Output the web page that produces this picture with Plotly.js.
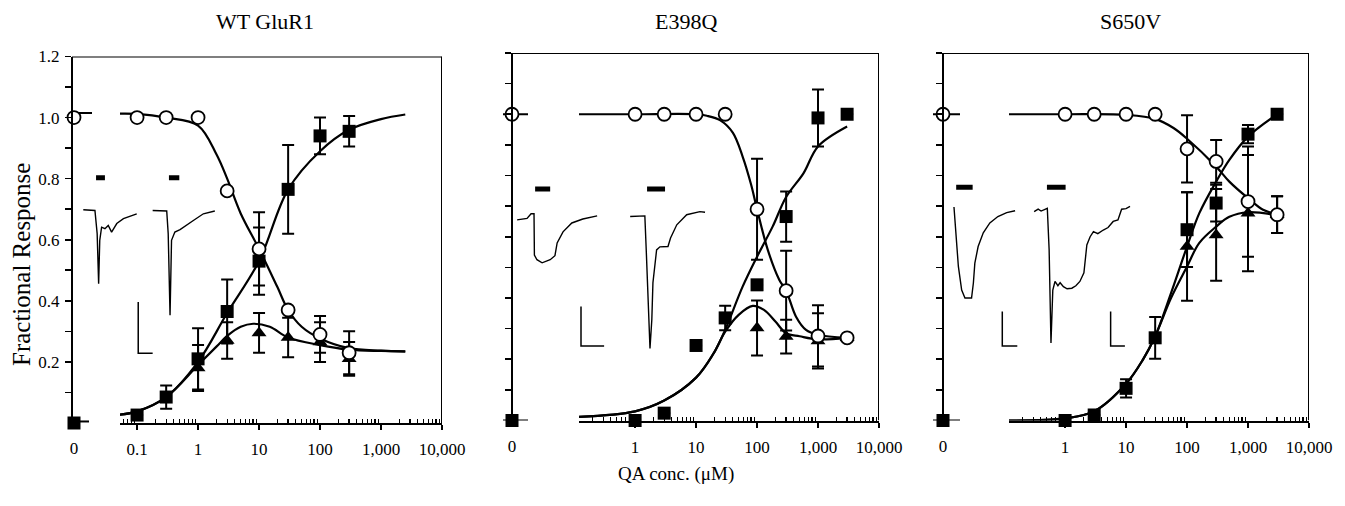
<!DOCTYPE html>
<html><head><meta charset="utf-8">
<script src="https://cdn.plot.ly/plotly-3.0.1.min.js"></script>
<style>html,body{margin:0;padding:0;background:#fff}#chart{width:1345px;height:506px}</style>
</head><body><div id="chart"></div>
<script>
// ================= DATA =================
const panelTitles = ['WT GluR1', 'E398Q', 'S650V'];
const xTitle = 'QA conc. (\u03bcM)';
const yTitle = 'Fractional Response';
const yTickVals = [0.2, 0.4, 0.6, 0.8, 1.0, 1.2];
const yTickText = ['0.2', '0.4', '0.6', '0.8', '1.0', '1.2'];
const yMinorVals = [0.1, 0.3, 0.5, 0.7, 0.9, 1.1];
const xTickVals1 = [0.1, 1, 10, 100, 1000, 10000];
const xTickText1 = ['0.1', '1', '10', '100', '1,000', '10,000'];
const xTickVals23 = [1, 10, 100, 1000, 10000];
const xTickText23 = ['1', '10', '100', '1,000', '10,000'];

// ---- WT GluR1 ----
const wtConc = [0.1, 0.3, 1, 3, 10, 30, 100, 300];
const wtCircle = [1.0, 1.0, 1.0, 0.76, 0.57, 0.37, 0.29, 0.23];
const wtCircleErr = [0, 0, 0, 0, 0.12, 0, 0.06, 0.07];
const wtSquare = [0.026, 0.085, 0.21, 0.365, 0.53, 0.765, 0.94, 0.955];
const wtSquareErr = [0, 0.038, 0.10, 0.105, 0.11, 0.145, 0.06, 0.05];
const wtTriConc = [1, 3, 10, 30, 100, 300];
const wtTri = [0.18, 0.27, 0.295, 0.28, 0.265, 0.21];
const wtTriErr = [0.075, 0.06, 0.065, 0.065, 0.065, 0.055];
const wtZeroCircle = [1.0], wtZeroSquare = [0.0];
const wtZeroCircleFit = 1.015, wtZeroSquareFit = 0.005;
const wtStubCircleX = [0, 0.9], wtStubSquareX = [-0.25, 0.75];
const wtCircleFitX = [0.052, 0.1, 0.3, 1, 2, 3, 5, 10, 20, 30, 50, 100, 300, 1000, 2500];
const wtCircleFitY = [1.013, 1.012, 1.0, 0.974, 0.88, 0.80, 0.686, 0.57, 0.445, 0.37, 0.315, 0.277, 0.245, 0.237, 0.234];
const wtSquareFitX = [0.052, 0.1, 0.3, 1, 3, 10, 30, 100, 300, 1000, 2500];
const wtSquareFitY = [0.027, 0.038, 0.085, 0.2, 0.36, 0.53, 0.765, 0.89, 0.96, 0.995, 1.01];
const wtTriFitX = [0.052, 0.1, 0.3, 1, 2, 3, 5, 8, 15, 30, 100, 300, 1000, 2500];
const wtTriFitY = [0.027, 0.038, 0.085, 0.19, 0.25, 0.285, 0.315, 0.325, 0.315, 0.28, 0.255, 0.24, 0.236, 0.235];
// inset current traces (x: % of panel width, y: response units)
const wtTrace1X = [3.05, 6.2, 6.8, 7.2, 7.5, 8.0, 8.9, 9.8, 10.7, 12.1, 13.9, 16.6, 17.5];
const wtTrace1Y = [0.698, 0.696, 0.62, 0.456, 0.598, 0.641, 0.636, 0.647, 0.625, 0.653, 0.669, 0.680, 0.685];
const wtTrace2X = [21.8, 25.6, 26.0, 26.5, 26.9, 27.8, 29.2, 31.0, 32.8, 35.5, 38.6];
const wtTrace2Y = [0.696, 0.694, 0.62, 0.353, 0.598, 0.625, 0.633, 0.647, 0.663, 0.685, 0.694];
const wtStimX = [[6.5, 8.9], [26.2, 29.0]];
const wtStimY = 0.803;
const wtScaleX = [[17.9, 17.9, 21.8]];
const wtScaleY = [0.396, 0.228, 0.228];

// ---- E398Q ----
const e3Conc = [1, 3, 10, 30, 100, 300, 1000, 3000];
const e3Circle = [1, 1, 1, 1, 0.69, 0.424, 0.276, 0.27];
const e3CircleErr = [0, 0, 0, 0, 0.165, 0.13, 0.1, 0];
const e3Square = [0, 0.024, 0.245, 0.335, 0.443, 0.666, 0.988, 1.0];
const e3SquareErr = [0, 0, 0, 0.04, 0, 0.082, 0.093, 0];
const e3TriConc = [100, 300, 1000, 3000];
const e3Tri = [0.302, 0.274, 0.26, 0.27];
const e3TriErr = [0.09, 0.055, 0.09, 0];
const e3ZeroCircle = [1.0], e3ZeroSquare = [0.0];
const e3ZeroCircleFit = 1.0, e3ZeroSquareFit = 0.0;
const e3StubCircleX = [-0.45, 0.8], e3StubSquareX = [-0.45, 0.8];
const e3CircleFitX = [0.12, 1, 10, 15, 25, 40, 58, 80, 100, 150, 232, 300, 436, 635, 1000, 3000];
const e3CircleFitY = [1.0, 1.0, 1.0, 0.995, 0.98, 0.94, 0.862, 0.77, 0.69, 0.557, 0.459, 0.424, 0.339, 0.296, 0.28, 0.27];
const e3SquareFitX = [0.12, 1, 3, 10, 19.5, 30, 58, 100, 180, 300, 580, 1000, 3000];
const e3SquareFitY = [0.012, 0.03, 0.065, 0.14, 0.22, 0.296, 0.437, 0.535, 0.633, 0.73, 0.808, 0.895, 0.96];
const e3TriFitX = [0.12, 1, 3, 10, 19.5, 30, 50, 85, 130, 200, 300, 500, 1000, 3000];
const e3TriFitY = [0.012, 0.03, 0.065, 0.14, 0.22, 0.29, 0.345, 0.374, 0.361, 0.323, 0.285, 0.275, 0.265, 0.27];
const e3Trace1X = [1.4, 4.1, 5.2, 6.0, 6.1, 6.8, 8.2, 10.4, 11.7, 12.3, 13.9, 16.3, 19.3, 23.2];
const e3Trace1Y = [0.655, 0.66, 0.675, 0.675, 0.54, 0.525, 0.515, 0.525, 0.538, 0.58, 0.616, 0.645, 0.658, 0.668];
const e3Trace2X = [32.2, 36.2, 36.6, 37.2, 37.6, 38.1, 38.4, 39.4, 40.3, 42.5, 43.2, 44.9, 47.6, 51.2, 52.6];
const e3Trace2Y = [0.666, 0.668, 0.55, 0.35, 0.235, 0.33, 0.45, 0.557, 0.567, 0.568, 0.596, 0.639, 0.672, 0.682, 0.68];
const e3StimX = [[6.3, 10.4], [36.8, 41.7]];
const e3StimY = 0.756;
const e3ScaleX = [[18.8, 18.8, 25.1]];
const e3ScaleY = [0.372, 0.243, 0.243];

// ---- S650V ----
const s6Conc = [1, 3, 10, 30, 100, 300, 1000, 3000];
const s6Circle = [1, 1, 1, 1, 0.887, 0.846, 0.715, 0.672];
const s6CircleErr = [0, 0, 0, 0, 0.11, 0.07, 0.18, 0.06];
const s6Square = [0, 0.018, 0.105, 0.27, 0.623, 0.71, 0.935, 1.0];
const s6SquareErr = [0, 0, 0.03, 0.068, 0.122, 0.06, 0.03, 0];
const s6TriConc = [100, 300, 1000, 3000];
const s6Tri = [0.568, 0.606, 0.677, 0.672];
const s6TriErr = [0.177, 0.15, 0.19, 0.06];
const s6ZeroCircle = [1.0], s6ZeroSquare = [0.0];
const s6ZeroCircleFit = 1.0, s6ZeroSquareFit = 0.0;
const s6StubCircleX = [-0.5, 0.85], s6StubSquareX = [-0.5, 0.85];
const s6CircleFitX = [0.12, 1, 10, 30, 60, 100, 300, 494, 1000, 1763, 3000];
const s6CircleFitY = [1.0, 1.0, 0.998, 0.985, 0.955, 0.92, 0.829, 0.78, 0.726, 0.688, 0.673];
const s6SquareFitX = [0.12, 1, 3, 10, 18.8, 30, 54.6, 100, 159, 300, 494, 1000, 3000];
const s6SquareFitY = [0.0, 0.007, 0.03, 0.12, 0.198, 0.275, 0.416, 0.568, 0.677, 0.78, 0.851, 0.927, 1.0];
const s6TriFitX = [0.12, 1, 3, 10, 18.8, 30, 54.6, 100, 159, 300, 494, 1000, 3000];
const s6TriFitY = [0.0, 0.007, 0.03, 0.12, 0.198, 0.275, 0.40, 0.503, 0.58, 0.633, 0.665, 0.68, 0.67];
const s6Trace1X = [3.0, 3.6, 4.2, 5.1, 6.0, 7.8, 8.3, 8.7, 9.6, 11.0, 12.8, 15.0, 17.4, 19.7];
const s6Trace1Y = [0.697, 0.613, 0.503, 0.426, 0.40, 0.40, 0.449, 0.514, 0.568, 0.613, 0.645, 0.666, 0.679, 0.685];
const s6Trace2X = [24.9, 26.0, 26.8, 27.4, 28.5, 29.0, 29.5, 30.0, 30.6, 31.4, 32.0, 32.9, 33.9, 35.2, 36.3, 37.4, 38.5, 39.3, 40.2, 41.1, 42.3, 43.8, 45.1, 46.5, 47.8, 48.8, 50.0, 51.1];
const s6Trace2Y = [0.682, 0.69, 0.684, 0.688, 0.693, 0.557, 0.253, 0.426, 0.454, 0.44, 0.45, 0.437, 0.43, 0.432, 0.44, 0.454, 0.482, 0.573, 0.60, 0.617, 0.61, 0.622, 0.63, 0.65, 0.655, 0.69, 0.692, 0.699];
const s6StimX = [[3.6, 8.1], [28.4, 33.5]];
const s6StimY = 0.762;
const s6ScaleX = [[16.2, 16.2, 20.3], [45.8, 45.8, 49.7]];
const s6ScaleY = [0.356, 0.243, 0.243];

// ================= LAYOUT GEOMETRY =================
const W = 1345, H = 506;
const FONT = 'Liberation Serif, Times New Roman, serif';
const px = x => x / W;
const py = y => (H - y) / H;

const panels = [
  { title: panelTitles[0], titleX: 265, y0: 423, y1: 56.5, axisX: 72, zeroX: 74, logX0: 120, right: 442, logLo: -1.28,
    tv: xTickVals1, tt: xTickText1, showY: true,
    conc: wtConc, circle: wtCircle, circleErr: wtCircleErr, square: wtSquare, squareErr: wtSquareErr,
    triConc: wtTriConc, tri: wtTri, triErr: wtTriErr,
    zc: wtZeroCircle, zs: wtZeroSquare, zcf: wtZeroCircleFit, zsf: wtZeroSquareFit, stubC: wtStubCircleX, stubS: wtStubSquareX,
    cfx: wtCircleFitX, cfy: wtCircleFitY, sfx: wtSquareFitX, sfy: wtSquareFitY, tfx: wtTriFitX, tfy: wtTriFitY,
    t1x: wtTrace1X, t1y: wtTrace1Y, t2x: wtTrace2X, t2y: wtTrace2Y, stimX: wtStimX, stimY: wtStimY, scX: wtScaleX, scY: wtScaleY },
  { title: panelTitles[1], titleX: 686, y0: 420.5, y1: 53, axisX: 512, zeroX: 512, logX0: 579, right: 879, logLo: -0.92,
    tv: xTickVals23, tt: xTickText23, showY: false,
    conc: e3Conc, circle: e3Circle, circleErr: e3CircleErr, square: e3Square, squareErr: e3SquareErr,
    triConc: e3TriConc, tri: e3Tri, triErr: e3TriErr,
    zc: e3ZeroCircle, zs: e3ZeroSquare, zcf: e3ZeroCircleFit, zsf: e3ZeroSquareFit, stubC: e3StubCircleX, stubS: e3StubSquareX,
    cfx: e3CircleFitX, cfy: e3CircleFitY, sfx: e3SquareFitX, sfy: e3SquareFitY, tfx: e3TriFitX, tfy: e3TriFitY,
    t1x: e3Trace1X, t1y: e3Trace1Y, t2x: e3Trace2X, t2y: e3Trace2Y, stimX: e3StimX, stimY: e3StimY, scX: e3ScaleX, scY: e3ScaleY },
  { title: panelTitles[2], titleX: 1130, y0: 420.5, y1: 53, axisX: 943, zeroX: 943, logX0: 1009, right: 1309, logLo: -0.92,
    tv: xTickVals23, tt: xTickText23, showY: false,
    conc: s6Conc, circle: s6Circle, circleErr: s6CircleErr, square: s6Square, squareErr: s6SquareErr,
    triConc: s6TriConc, tri: s6Tri, triErr: s6TriErr,
    zc: s6ZeroCircle, zs: s6ZeroSquare, zcf: s6ZeroCircleFit, zsf: s6ZeroSquareFit, stubC: s6StubCircleX, stubS: s6StubSquareX,
    cfx: s6CircleFitX, cfy: s6CircleFitY, sfx: s6SquareFitX, sfy: s6SquareFitY, tfx: s6TriFitX, tfy: s6TriFitY,
    t1x: s6Trace1X, t1y: s6Trace1Y, t2x: s6Trace2X, t2y: s6Trace2Y, stimX: s6StimX, stimY: s6StimY, scX: s6ScaleX, scY: s6ScaleY }
];

function minorLog(lo, hi) {
  const out = [];
  for (let k = Math.floor(lo); k < Math.ceil(hi); k++) {
    for (let m = 2; m <= 9; m++) {
      const v = m * Math.pow(10, k);
      const l = Math.log10(v);
      if (l > lo && l < hi) out.push(v);
    }
  }
  return out;
}

const layout = {
  width: W, height: H,
  margin: { l: 0, r: 0, t: 0, b: 0 },
  paper_bgcolor: 'white', plot_bgcolor: 'rgba(0,0,0,0)',
  showlegend: false,
  font: { family: FONT, color: 'black', size: 17 },
  annotations: [], shapes: []
};
const data = [];
const BLK = 'black';

panels.forEach((P, i) => {
  const n = i * 3;
  const xz = n === 0 ? 'x' : 'x' + (n + 1);
  const xl = 'x' + (n + 2);
  const xi = 'x' + (n + 3);
  const yn = i === 0 ? 'y' : 'y' + (i + 1);
  const axKey = s => s === 'x' ? 'xaxis' : s.replace('x', 'xaxis');
  const yKey = i === 0 ? 'yaxis' : 'yaxis' + (i + 1);

  layout[yKey] = {
    domain: [py(P.y0), py(P.y1)], range: [0, 1.2], anchor: 'free', position: px(P.axisX),
    showline: true, linewidth: 2, linecolor: BLK,
    ticks: 'outside', ticklen: 6, tickwidth: 1.6, tickcolor: BLK,
    tickmode: 'array', tickvals: yTickVals, ticktext: yTickText, showticklabels: P.showY,
    tickfont: { size: 17, family: FONT }, ticklabelstandoff: 2,
    minor: { tickmode: 'array', tickvals: yMinorVals, ticks: 'outside', ticklen: 6, tickwidth: 1.6, tickcolor: BLK },
    showgrid: false, zeroline: false, fixedrange: true
  };
  layout[axKey(xz)] = {
    domain: [px(P.zeroX - 20), px(P.zeroX + 20)], range: [-1, 1], anchor: yn,
    showline: false, showgrid: false, zeroline: false,
    tickmode: 'array', tickvals: [0], ticktext: ['0'],
    ticks: 'outside', ticklen: 5, tickcolor: 'rgba(0,0,0,0)',
    tickfont: { size: 17, family: FONT }, ticklabelstandoff: 5, fixedrange: true
  };
  layout[axKey(xl)] = {
    type: 'log', domain: [px(P.logX0), px(P.right)], range: [P.logLo, 4], anchor: yn,
    showline: true, linewidth: 2, linecolor: BLK,
    ticks: 'outside', ticklen: 5, tickwidth: 1.6, tickcolor: BLK,
    tickmode: 'array', tickvals: P.tv, ticktext: P.tt,
    tickfont: { size: 17, family: FONT }, ticklabelstandoff: 5,
    minor: { tickmode: 'array', tickvals: minorLog(P.logLo, 4), ticks: 'inside', ticklen: 4, tickwidth: 1.3, tickcolor: BLK },
    showgrid: false, zeroline: false, fixedrange: true
  };
  layout[axKey(xi)] = {
    domain: [px(P.axisX), px(P.right)], range: [0, 100], anchor: yn, visible: false, fixedrange: true
  };

  // frame: top and right edges
  layout.shapes.push({ type: 'line', xref: xi, yref: yn, x0: 0, x1: 100, y0: 1.2, y1: 1.2, line: { color: BLK, width: 2 } });
  layout.shapes.push({ type: 'line', xref: xi, yref: yn, x0: 100, x1: 100, y0: 0, y1: 1.2, line: { color: BLK, width: 2 } });

  // title
  layout.annotations.push({ xref: 'paper', yref: 'paper', x: px(P.titleX), y: py(22), text: P.title, showarrow: false,
    xanchor: 'center', yanchor: 'middle', font: { size: 22, family: FONT, color: BLK } });

  // ---- inset current traces ----
  const insetLine = { color: BLK, width: 1.4 };
  data.push({ type: 'scatter', mode: 'lines', x: P.t1x, y: P.t1y, xaxis: xi, yaxis: yn, line: insetLine, hoverinfo: 'skip' });
  data.push({ type: 'scatter', mode: 'lines', x: P.t2x, y: P.t2y, xaxis: xi, yaxis: yn, line: insetLine, hoverinfo: 'skip' });
  P.stimX.forEach(sx => data.push({ type: 'scatter', mode: 'lines', x: sx, y: [P.stimY, P.stimY], xaxis: xi, yaxis: yn,
    line: { color: BLK, width: 5 }, hoverinfo: 'skip' }));
  P.scX.forEach(sx => data.push({ type: 'scatter', mode: 'lines', x: sx, y: P.scY, xaxis: xi, yaxis: yn,
    line: { color: BLK, width: 1.5 }, hoverinfo: 'skip' }));

  // ---- fitted curves ----
  const fitLine = { color: BLK, width: 2.2, shape: 'spline', smoothing: 1 };
  data.push({ type: 'scatter', mode: 'lines', x: P.sfx, y: P.sfy, xaxis: xl, yaxis: yn, line: fitLine });
  data.push({ type: 'scatter', mode: 'lines', x: P.tfx, y: P.tfy, xaxis: xl, yaxis: yn, line: fitLine });
  data.push({ type: 'scatter', mode: 'lines', x: P.cfx, y: P.cfy, xaxis: xl, yaxis: yn, line: fitLine });
  // zero-concentration stubs
  data.push({ type: 'scatter', mode: 'lines', x: P.stubC, y: [P.zcf, P.zcf], xaxis: xz, yaxis: yn, line: { color: BLK, width: 2 } });
  data.push({ type: 'scatter', mode: 'lines', x: P.stubS, y: [P.zsf, P.zsf], xaxis: xz, yaxis: yn, line: { color: BLK, width: 2 } });

  const err = arr => ({ type: 'data', array: arr, visible: true, color: BLK, thickness: 2, width: 6 });
  // triangles
  data.push({ type: 'scatter', mode: 'markers', x: P.triConc, y: P.tri, xaxis: xl, yaxis: yn, cliponaxis: false,
    marker: { symbol: 'triangle-up', size: 13, color: BLK }, error_y: err(P.triErr) });
  // squares
  data.push({ type: 'scatter', mode: 'markers', x: P.conc, y: P.square, xaxis: xl, yaxis: yn, cliponaxis: false,
    marker: { symbol: 'square', size: 13, color: BLK }, error_y: err(P.squareErr) });
  // circles
  data.push({ type: 'scatter', mode: 'markers', x: P.conc, y: P.circle, xaxis: xl, yaxis: yn, cliponaxis: false,
    marker: { symbol: 'circle', size: 13, color: 'white', line: { color: BLK, width: 1.8 } }, error_y: err(P.circleErr) });
  // zero-concentration points
  data.push({ type: 'scatter', mode: 'markers', x: [0], y: P.zs, xaxis: xz, yaxis: yn, cliponaxis: false,
    marker: { symbol: 'square', size: 13, color: BLK } });
  data.push({ type: 'scatter', mode: 'markers', x: [0], y: P.zc, xaxis: xz, yaxis: yn, cliponaxis: false,
    marker: { symbol: 'circle', size: 13, color: 'white', line: { color: BLK, width: 1.8 } } });
});

layout.annotations.push({ xref: 'paper', yref: 'paper', x: px(21), y: py(265), text: yTitle, showarrow: false, textangle: -90,
  xanchor: 'center', yanchor: 'middle', font: { size: 25, family: FONT, color: BLK } });
layout.annotations.push({ xref: 'paper', yref: 'paper', x: px(676), y: py(474), text: xTitle, showarrow: false,
  xanchor: 'center', yanchor: 'middle', font: { size: 19, family: FONT, color: BLK } });

Plotly.newPlot('chart', data, layout, { staticPlot: true, displayModeBar: false });
</script>
</body></html>
